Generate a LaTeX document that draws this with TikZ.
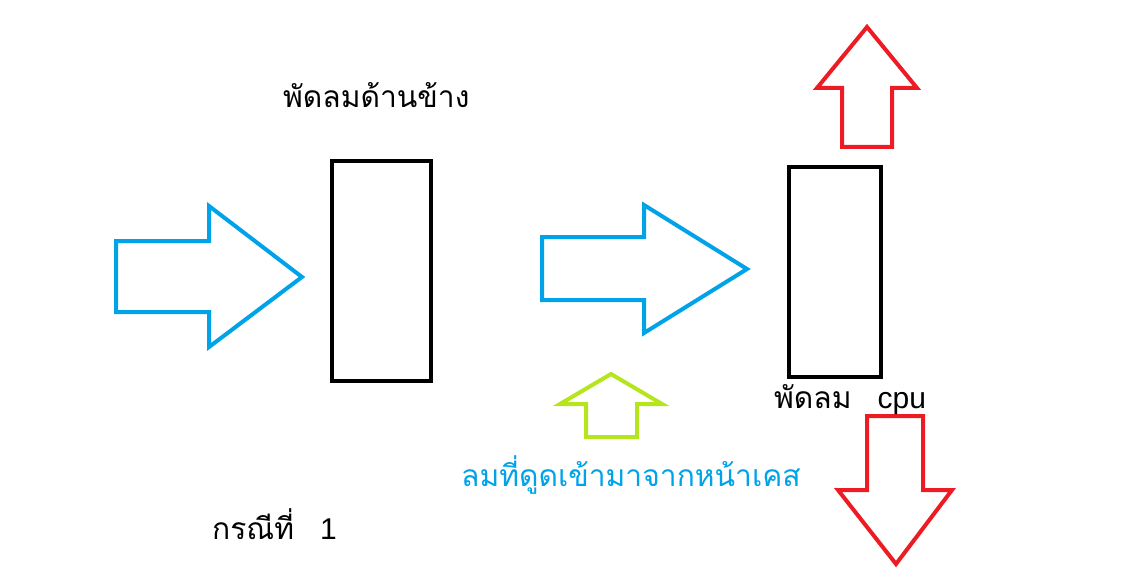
\documentclass[tikz,border=0pt]{standalone}
\usepackage{fontspec}
\setmainfont{Liberation Sans}
\newfontfamily\thaifont[Script=Thai]{Loma}
\definecolor{pblue}{HTML}{00A2E8}
\definecolor{pred}{HTML}{ED1C24}
\definecolor{pgreen}{HTML}{B5E61D}
\tikzset{
  arrowshape/.style={line width=4pt, line join=miter},
  box/.style={draw=black, line width=4.5pt, minimum width=0pt, minimum height=0pt, inner sep=0pt},
  lbl/.style={anchor=west, inner sep=0pt, font=\thaifont\fontsize{30}{34}\selectfont}
}
\begin{document}
\begin{tikzpicture}[x=1pt,y=-1pt]
\useasboundingbox (0,0) rectangle (1145,588);
% boxes
\draw[box] (332,161) rectangle (431,381);
\draw[box] (789,167) rectangle (881,377);
% blue arrows
\draw[arrowshape, pblue] (116,241) -- (209,241) -- (209,206) -- (302,277) -- (209,347) -- (209,312) -- (116,312) -- cycle;
\draw[arrowshape, pblue] (542,237) -- (644,237) -- (644,205) -- (747,269) -- (644,333) -- (644,300) -- (542,300) -- cycle;
% red arrows
\draw[arrowshape, pred] (842,147) -- (842,88) -- (817,88) -- (867,27) -- (917,88) -- (892,88) -- (892,147) -- cycle;
\draw[arrowshape, pred] (867,416) -- (923,416) -- (923,490) -- (952,490) -- (896,564) -- (838,490) -- (867,490) -- cycle;
% green arrow
\draw[arrowshape, pgreen] (586,437) -- (586,404) -- (560,404) -- (611,374) -- (662,404) -- (637,404) -- (637,437) -- cycle;
% labels
\node[lbl] (t1) at (283,95) {พัดลมด้านข้าง};
\node[lbl] (t2) at (774,400) {พัดลม\hspace{26pt}{\rmfamily cpu}};
\node[lbl, text=pblue] (t3) at (461,475) {ลมที่ดูดเข้ามาจากหน้าเคส};
\node[lbl] (t4) at (212,524) {กรณีที่\hspace{26pt}{\rmfamily 1}};
\end{tikzpicture}
\end{document}
